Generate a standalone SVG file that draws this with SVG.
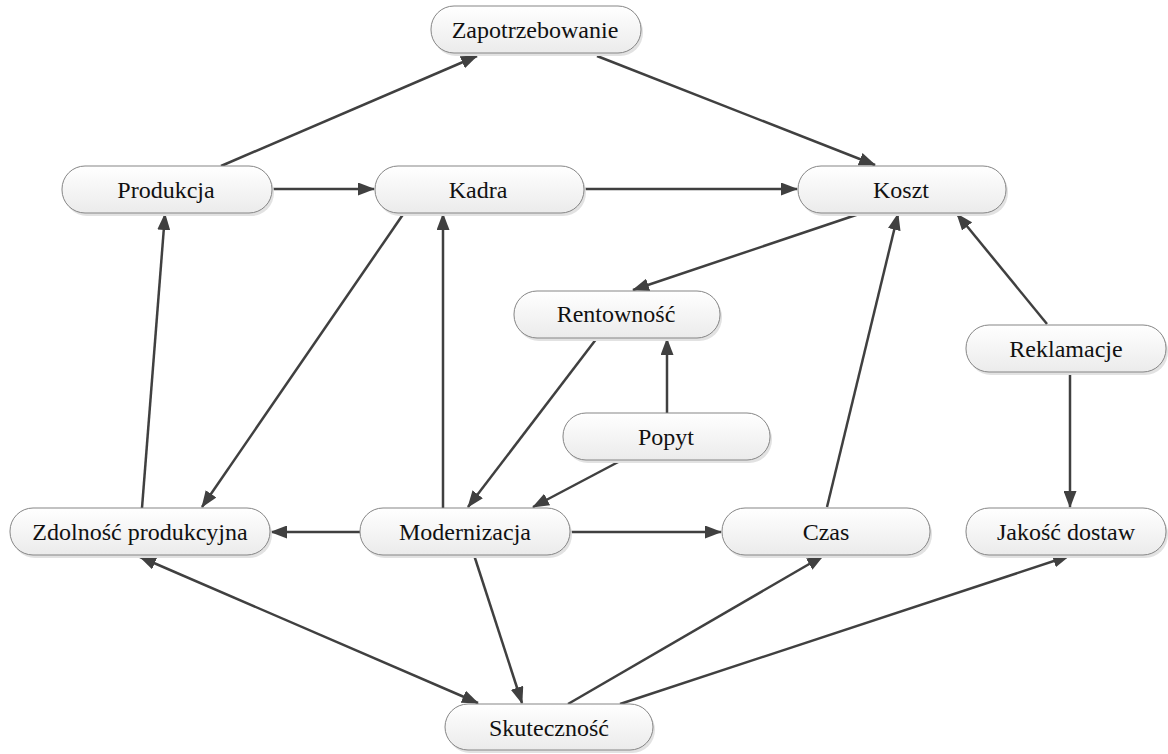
<svg xmlns="http://www.w3.org/2000/svg" width="1168" height="754" viewBox="0 0 1168 754">
<defs>
<linearGradient id="g" x1="0" y1="0" x2="0" y2="1">
<stop offset="0" stop-color="#ffffff"/>
<stop offset="1" stop-color="#ebebeb"/>
</linearGradient>
<marker id="a" markerUnits="userSpaceOnUse" markerWidth="17" markerHeight="13" refX="16" refY="6.5" orient="auto-start-reverse">
<path d="M0,0 L17,6.5 L0,13 z" fill="#404040"/>
</marker>
</defs>
<style>
.n rect.b{fill:url(#g);stroke:#858585;stroke-width:1}
.n rect.s{fill:#e2e2e2}
.n text{font-family:"Liberation Serif",serif;font-size:24px;fill:#111;text-anchor:middle;dominant-baseline:central}
.e line{stroke:#404040;stroke-width:2.5;marker-end:url(#a)}
</style>
<rect width="1168" height="754" fill="#fff"/>
<g class="e" id="connectors">
<line x1="221" y1="166" x2="477" y2="56"/>
<line x1="597" y1="56" x2="875" y2="165"/>
<line x1="272" y1="189" x2="374" y2="189"/>
<line x1="584" y1="189" x2="797" y2="189"/>
<line x1="862" y1="213" x2="633" y2="290"/>
<line x1="827" y1="507" x2="898" y2="214"/>
<line x1="1047" y1="324" x2="957" y2="214"/>
<line x1="1070" y1="372" x2="1070" y2="507"/>
<line x1="404" y1="213" x2="202" y2="507"/>
<line x1="443" y1="508" x2="443" y2="214"/>
<line x1="597" y1="338" x2="468" y2="507"/>
<line x1="667" y1="413" x2="667" y2="339"/>
<line x1="622" y1="460" x2="533" y2="507"/>
<line x1="142" y1="508" x2="165" y2="214"/>
<line x1="360" y1="532" x2="271" y2="532"/>
<line x1="570" y1="532" x2="721" y2="532"/>
<line x1="474" y1="555" x2="522" y2="703"/>
<line x1="140" y1="557" x2="478" y2="703" marker-start="url(#a)"/>
<line x1="568" y1="704" x2="823" y2="556"/>
<line x1="620" y1="704" x2="1069" y2="556"/>
</g>
<g class="n" id="n-zapotrzebowanie"><rect class="s" x="433" y="9" width="210" height="47" rx="23"/><rect class="b" x="431" y="6" width="210" height="47" rx="23"/><text x="535" y="30">Zapotrzebowanie</text></g>
<g class="n" id="n-produkcja"><rect class="s" x="64" y="169" width="210" height="47" rx="23"/><rect class="b" x="62" y="166" width="210" height="47" rx="23"/><text x="166" y="190">Produkcja</text></g>
<g class="n" id="n-kadra"><rect class="s" x="377" y="169" width="209" height="47" rx="23"/><rect class="b" x="375" y="166" width="209" height="47" rx="23"/><text x="478" y="190">Kadra</text></g>
<g class="n" id="n-koszt"><rect class="s" x="800" y="169" width="208" height="47" rx="23"/><rect class="b" x="798" y="166" width="208" height="47" rx="23"/><text x="901" y="190">Koszt</text></g>
<g class="n" id="n-rentownosc"><rect class="s" x="516" y="294" width="206" height="47" rx="23"/><rect class="b" x="514" y="291" width="206" height="47" rx="23"/><text x="616" y="314">Rentowność</text></g>
<g class="n" id="n-reklamacje"><rect class="s" x="968" y="328" width="200" height="47" rx="23"/><rect class="b" x="966" y="325" width="200" height="47" rx="23"/><text x="1066" y="349">Reklamacje</text></g>
<g class="n" id="n-popyt"><rect class="s" x="565" y="416" width="207" height="47" rx="23"/><rect class="b" x="563" y="413" width="207" height="47" rx="23"/><text x="666" y="437">Popyt</text></g>
<g class="n" id="n-zdolnosc"><rect class="s" x="12" y="511" width="260" height="47" rx="23"/><rect class="b" x="10" y="508" width="260" height="47" rx="23"/><text x="140" y="532">Zdolność produkcyjna</text></g>
<g class="n" id="n-modernizacja"><rect class="s" x="362" y="511" width="210" height="47" rx="23"/><rect class="b" x="360" y="508" width="210" height="47" rx="23"/><text x="465" y="532">Modernizacja</text></g>
<g class="n" id="n-czas"><rect class="s" x="724" y="511" width="208" height="47" rx="23"/><rect class="b" x="722" y="508" width="208" height="47" rx="23"/><text x="826" y="532">Czas</text></g>
<g class="n" id="n-jakosc"><rect class="s" x="968" y="511" width="200" height="47" rx="23"/><rect class="b" x="966" y="508" width="200" height="47" rx="23"/><text x="1066" y="532">Jakość dostaw</text></g>
<g class="n" id="n-skutecznosc"><rect class="s" x="447" y="707" width="208" height="46" rx="23"/><rect class="b" x="445" y="704" width="208" height="46" rx="23"/><text x="549" y="728">Skuteczność</text></g>
</svg>
